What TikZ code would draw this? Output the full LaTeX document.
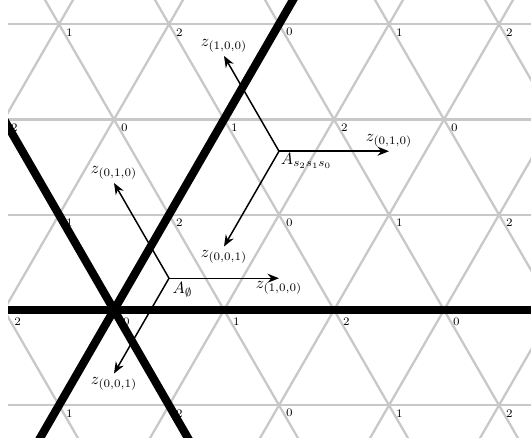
\documentclass[tikz,border=0pt]{standalone}
\usetikzlibrary{arrows.meta}
\definecolor{latgray}{RGB}{200,200,200}
\tikzset{
  latline/.style={draw=latgray, line width=1.4pt},
  wall/.style={draw=black, line width=5pt},
  vlab/.style={font=\scriptsize, inner sep=0pt},
  zarrow/.style={-{Stealth[length=7pt,width=5.5pt]}, line width=0.9pt},
  zlab/.style={inner sep=2pt},
}
\begin{document}
\begin{tikzpicture}[x=67pt,y=67pt]
\useasboundingbox (-1.0364,-1.1636) rectangle (3.7909,2.8182);
\pgfmathsetmacro{\h}{sqrt(3)/2}
\begin{scope}
  \clip (-0.9636,-1.1636) rectangle (3.7909,2.8182);
  % lattice
  \foreach \k in {-2,...,4}
    \draw[latline] (-2,{\k*\h}) -- (5,{\k*\h});
  \foreach \n in {-5,...,8} {
    \draw[latline] ({\n-2},{-4*\h}) -- ({\n+3},{6*\h});
    \draw[latline] ({\n+2},{-4*\h}) -- ({\n-3},{6*\h});
  }
  % walls
  \coordinate (O) at (0,0);
  \coordinate (wh1) at (-2,0);
  \coordinate (wh2) at (5,0);
  \coordinate (wa1) at (-1,{-2*\h});
  \coordinate (wa2) at (2,{4*\h});
  \coordinate (wb1) at (1,{-2*\h});
  \coordinate (wb2) at (-2,{4*\h});
  \draw[wall] (wh1) -- (wh2);
  \draw[wall] (wa1) -- (wa2);
  \draw[wall] (wb1) -- (wb2);
\end{scope}
% vertex labels
\foreach \x/\l in {0/0,1/1,2/2,3/0}
  \node[vlab] (v0\l\x) at ({\x+0.112},-0.108) {\l};
\node[vlab] (v0m) at (-0.875,-0.108) {2};
\foreach \k in {2}
  \foreach \x/\l in {-1/2,0/0,1/1,2/2,3/0}
    \node[vlab] (v\k\x) at ({\x+0.095},{\k*\h-0.073}) {\l};
\foreach \k/\nm in {-1/m,1/a,3/c}
  \foreach \x/\l [count=\i] in {-0.5/1,0.5/2,1.5/0,2.5/1,3.5/2}
    \node[vlab] (v\nm\i) at ({\x+0.095},{\k*\h-0.073}) {\l};
% alcove A_empty
\coordinate (Ae) at (0.5,{\h/3});
\coordinate (Ae1) at (1.5,{\h/3});
\coordinate (Ae2) at (0,{\h/3+\h});
\coordinate (Ae3) at (0,{\h/3-\h});
\draw[zarrow] (Ae) -- (Ae1);
\draw[zarrow] (Ae) -- (Ae2);
\draw[zarrow] (Ae) -- (Ae3);
\node[zlab, below] (zAe1) at (Ae1) {$z_{(1,0,0)}$};
\node[zlab, above] (zAe2) at (Ae2) {$z_{(0,1,0)}$};
\node[zlab, below] (zAe3) at (Ae3) {$z_{(0,0,1)}$};
\node[below right, inner sep=2pt] (lAe) at (Ae) {$A_{\emptyset}$};
% alcove A_{s2 s1 s0}
\coordinate (As) at (1.5,{5*\h/3});
\coordinate (As1) at (2.5,{5*\h/3});
\coordinate (As2) at (1,{5*\h/3+\h});
\coordinate (As3) at (1,{5*\h/3-\h});
\draw[zarrow] (As) -- (As1);
\draw[zarrow] (As) -- (As2);
\draw[zarrow] (As) -- (As3);
\node[zlab, above] (zAs1) at (As1) {$z_{(0,1,0)}$};
\node[zlab, above] (zAs2) at (As2) {$z_{(1,0,0)}$};
\node[zlab, below] (zAs3) at (As3) {$z_{(0,0,1)}$};
\node[below right, inner sep=1pt] (lAs) at (As) {$A_{s_2s_1s_0}$};
\end{tikzpicture}
\end{document}
